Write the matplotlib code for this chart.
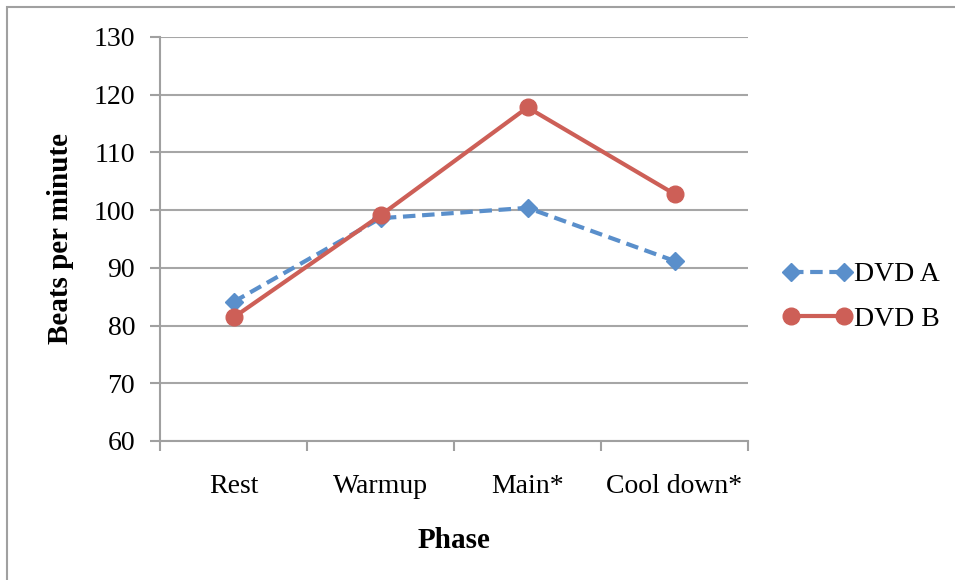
import numpy as np
import matplotlib.pyplot as plt
from matplotlib.patches import Rectangle

phases = ["Rest", "Warmup", "Main*", "Cool down*"]
dvd_a = [84.1, 98.6, 100.4, 91.2]
dvd_b = [81.4, 99.1, 117.8, 102.8]
y_ticks = [60, 70, 80, 90, 100, 110, 120, 130]

plt.rcParams["font.family"] = ["Liberation Serif", "DejaVu Serif"]
grey = "#A0A0A0"

fig = plt.figure(figsize=(9.55, 5.8), dpi=100)
ax = fig.add_axes([160 / 955, 139 / 580, 588 / 955, 404 / 580])

# cadre autour du graphique
fig.patches.append(Rectangle((7 / 955, -0.1), 1.2, (580 - 7) / 580 + 0.1,
                             transform=fig.transFigure, fill=False,
                             edgecolor=grey, linewidth=1.5))

x = np.arange(len(phases))
ax.plot(x, dvd_a, color="#5A8FCB", linestyle=(0, (3, 1.6)), linewidth=3,
        marker="D", markersize=9.5, label="DVD A")
ax.plot(x, dvd_b, color="#CD5F57", linestyle="-", linewidth=3,
        marker="o", markersize=12, label="DVD B")

ax.set_xlim(-0.5, len(phases) - 0.5)
ax.set_ylim(60, 130)
ax.set_yticks(y_ticks)
ax.set_xticks(x)
ax.set_xticklabels(phases)
ax.set_xticks(np.arange(len(phases) + 1) - 0.5, minor=True)

ax.tick_params(axis="x", which="major", length=0, pad=24, labelsize=20)
ax.tick_params(axis="x", which="minor", length=7, width=1.5, color=grey)
ax.tick_params(axis="y", length=7, width=1.5, color=grey, pad=11, labelsize=20)

ax.yaxis.grid(True, color="#A6A6A6", linewidth=1.5)
ax.set_axisbelow(True)
for s in ["top", "right"]:
    ax.spines[s].set_visible(False)
for s in ["left", "bottom"]:
    ax.spines[s].set_color(grey)
    ax.spines[s].set_linewidth(1.5)

ax.set_xlabel("Phase", fontsize=21, fontweight="bold", labelpad=20)
ax.set_ylabel("Beats per minute", fontsize=21, fontweight="bold")
ax.yaxis.set_label_coords(74 / 955, 1 - 239 / 580, transform=fig.transFigure)

ax.legend(loc="center left", bbox_to_anchor=(772 / 955, 1 - 297 / 580),
          bbox_transform=fig.transFigure, frameon=False, numpoints=2,
          handlelength=2.5, handletextpad=0.05, labelspacing=0.7,
          fontsize=20, borderaxespad=0)

plt.savefig("out.png", dpi=100)
